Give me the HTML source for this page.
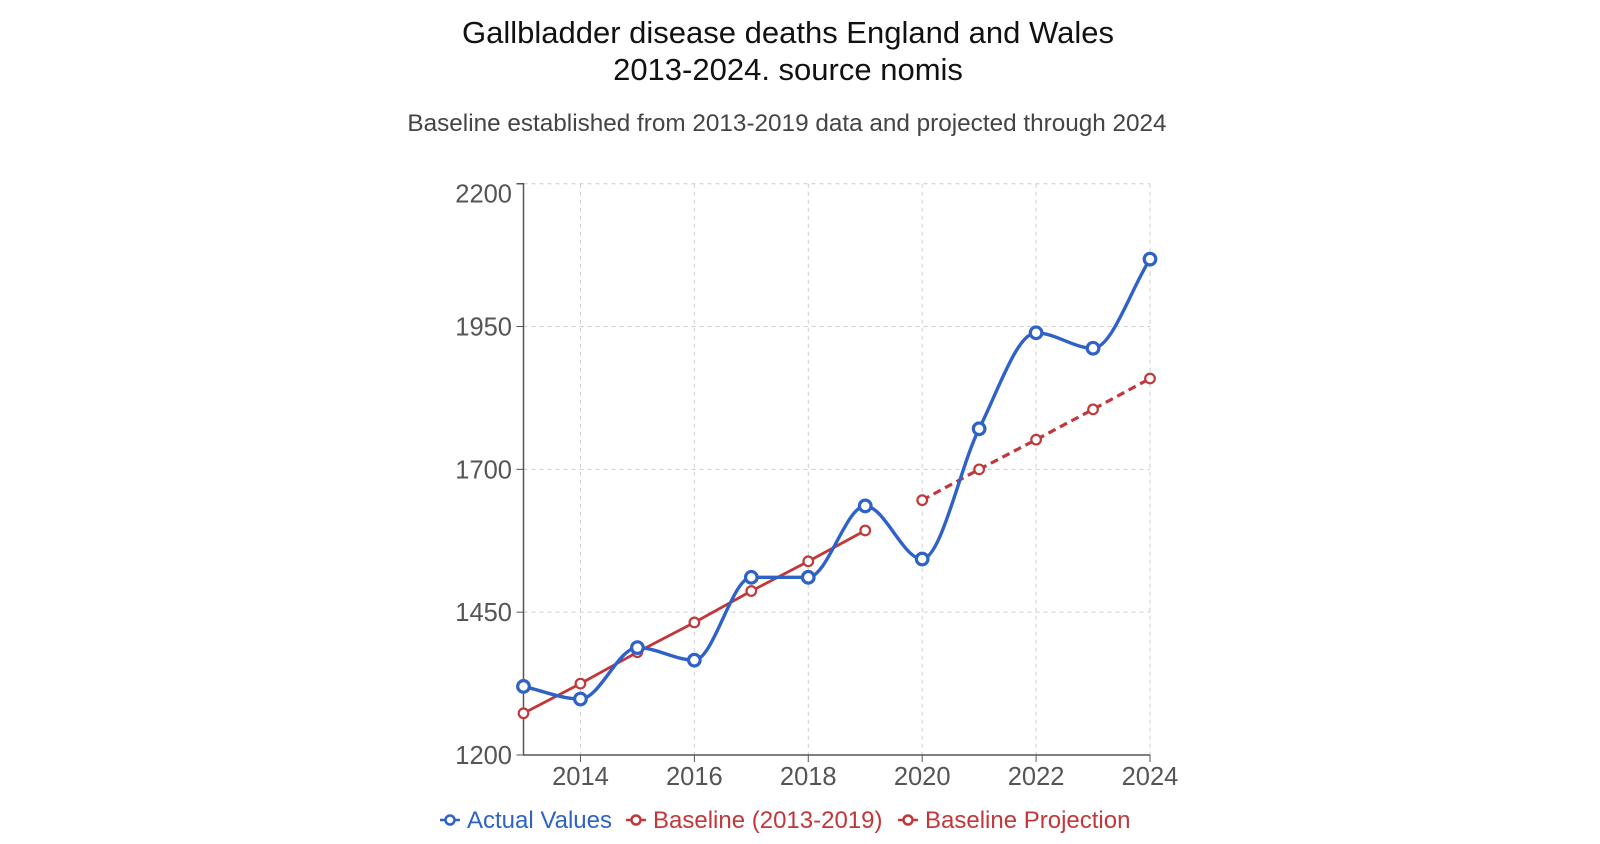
<!DOCTYPE html>
<html><head><meta charset="utf-8"><style>
body{margin:0;background:#fff;font-family:"Liberation Sans",sans-serif}
svg{display:block}
</style></head><body>
<svg id="chart" width="1600" height="844">
<text x="788" y="43" text-anchor="middle" font-size="31" fill="#111">Gallbladder disease deaths England and Wales</text>
<text x="788" y="80" text-anchor="middle" font-size="31" fill="#111">2013-2024. source nomis</text>
<text x="787" y="131" text-anchor="middle" font-size="24.3" fill="#444">Baseline established from 2013-2019 data and projected through 2024</text>
<g id="grid"></g><g id="axes"></g><g id="series"></g>
<g font-size="24">
 <g><line x1="440" y1="820" x2="460" y2="820" stroke="#2f62c9" stroke-width="2.5"/><circle cx="450" cy="820" r="4.5" fill="#fff" stroke="#2f62c9" stroke-width="2.5"/><text x="467" y="828" fill="#2f62c9">Actual Values</text></g>
 <g><line x1="626" y1="820" x2="646" y2="820" stroke="#c1373a" stroke-width="2.5"/><circle cx="636" cy="820" r="4.5" fill="#fff" stroke="#c1373a" stroke-width="2.5"/><text x="653" y="828" fill="#c1373a">Baseline (2013-2019)</text></g>
 <g><line x1="898" y1="820" x2="918" y2="820" stroke="#c1373a" stroke-width="2.5"/><circle cx="908" cy="820" r="4.5" fill="#fff" stroke="#c1373a" stroke-width="2.5"/><text x="925" y="828" fill="#c1373a">Baseline Projection</text></g>
</g>
</svg>
<script>
const years=[2013,2014,2015,2016,2017,2018,2019,2020,2021,2022,2023,2024];
const actual=[1320,1298,1388,1366,1511,1511,1636,1543,1771,1939,1912,2068];
const baselineYears=[2013,2014,2015,2016,2017,2018,2019];
const baseline=[1273,1325,1380,1432,1487,1539,1593];
const projYears=[2020,2021,2022,2023,2024];
const projection=[1646,1700,1752,1805,1859];
const yTicks=[1200,1450,1700,1950,2200];
const xTicks=[2014,2016,2018,2020,2022,2024];
const NS="http://www.w3.org/2000/svg";
const X0=523.5,X1=1150,YB=755,YT=183.7;
const X=v=>X0+(v-2013)*(X1-X0)/11;
const Y=v=>YB-(v-1200)*(YB-YT)/1000;
function mk(p,tag,a){const e=document.createElementNS(NS,tag);for(const k in a)e.setAttribute(k,a[k]);document.getElementById(p).appendChild(e);return e;}
yTicks.forEach((t,i)=>{
 const g=mk('grid','line',{x1:X0,x2:X1,y1:Y(t),y2:Y(t),stroke:'#ccc','stroke-dasharray':'4 4'});
 
 
 mk('axes','line',{x1:X0-7,x2:X0,y1:Y(t),y2:Y(t),stroke:'#555'});
 const off=(i===yTicks.length-1)?19:9;
 const l=mk('axes','text',{x:512,y:Y(t)+off,'text-anchor':'end','font-size':25.5,fill:'#555'});l.textContent=t;
 
 
});
xTicks.forEach(t=>{
 const g=mk('grid','line',{x1:X(t),x2:X(t),y1:YT,y2:YB,stroke:'#ccc','stroke-dasharray':'4 4'});
 
 
 mk('axes','line',{x1:X(t),x2:X(t),y1:YB,y2:YB+7,stroke:'#555'});
 const l=mk('axes','text',{x:X(t),y:785,'text-anchor':'middle','font-size':25.5,fill:'#555'});l.textContent=t;
 
 
});
const ya=mk('axes','path',{d:`M${X0-7} ${YT}H${X0}V${YB}H${X1}`,fill:'none',stroke:'#555','stroke-width':1.5});


function monotone(xs,ys){
 const n=xs.length,d=[],m=[];
 for(let i=0;i<n-1;i++)d.push((ys[i+1]-ys[i])/(xs[i+1]-xs[i]));
 m[0]=d[0];m[n-1]=d[n-2];
 for(let i=1;i<n-1;i++)m[i]=(d[i-1]*d[i]<=0)?0:(d[i-1]+d[i])/2;
 for(let i=0;i<n-1;i++){if(d[i]===0){m[i]=0;m[i+1]=0;continue;}const a=m[i]/d[i],b=m[i+1]/d[i],s=a*a+b*b;if(s>9){const t=3/Math.sqrt(s);m[i]=t*a*d[i];m[i+1]=t*b*d[i];}}
 let p=`M${xs[0]} ${ys[0]}`;
 for(let i=0;i<n-1;i++){const h=(xs[i+1]-xs[i])/3;p+=`C${xs[i]+h} ${ys[i]+m[i]*h} ${xs[i+1]-h} ${ys[i+1]-m[i+1]*h} ${xs[i+1]} ${ys[i+1]}`;}
 return p;
}
const bl=mk('series','polyline',{points:baselineYears.map((y,i)=>X(y)+','+Y(baseline[i])).join(' '),fill:'none',stroke:'#c1373a','stroke-width':2.8});


const pl=mk('series','polyline',{points:projYears.map((y,i)=>X(y)+','+Y(projection[i])).join(' '),fill:'none',stroke:'#c1373a','stroke-width':3.2,'stroke-dasharray':'8 5'});


const al=mk('series','path',{d:monotone(years.map(X),actual.map(Y)),fill:'none',stroke:'#2f62c9','stroke-width':3.4});


baselineYears.forEach((y,i)=>{const c=mk('series','circle',{cx:X(y),cy:Y(baseline[i]),r:4.8,fill:'#fff',stroke:'#c1373a','stroke-width':2.2});
 
 });
projYears.forEach((y,i)=>{const c=mk('series','circle',{cx:X(y),cy:Y(projection[i]),r:4.8,fill:'#fff',stroke:'#c1373a','stroke-width':2.2});
 
 });
years.forEach((y,i)=>{const c=mk('series','circle',{cx:X(y),cy:Y(actual[i]),r:5.8,fill:'#fff',stroke:'#2f62c9','stroke-width':3.2});
 
 });
</script>
</body></html>
